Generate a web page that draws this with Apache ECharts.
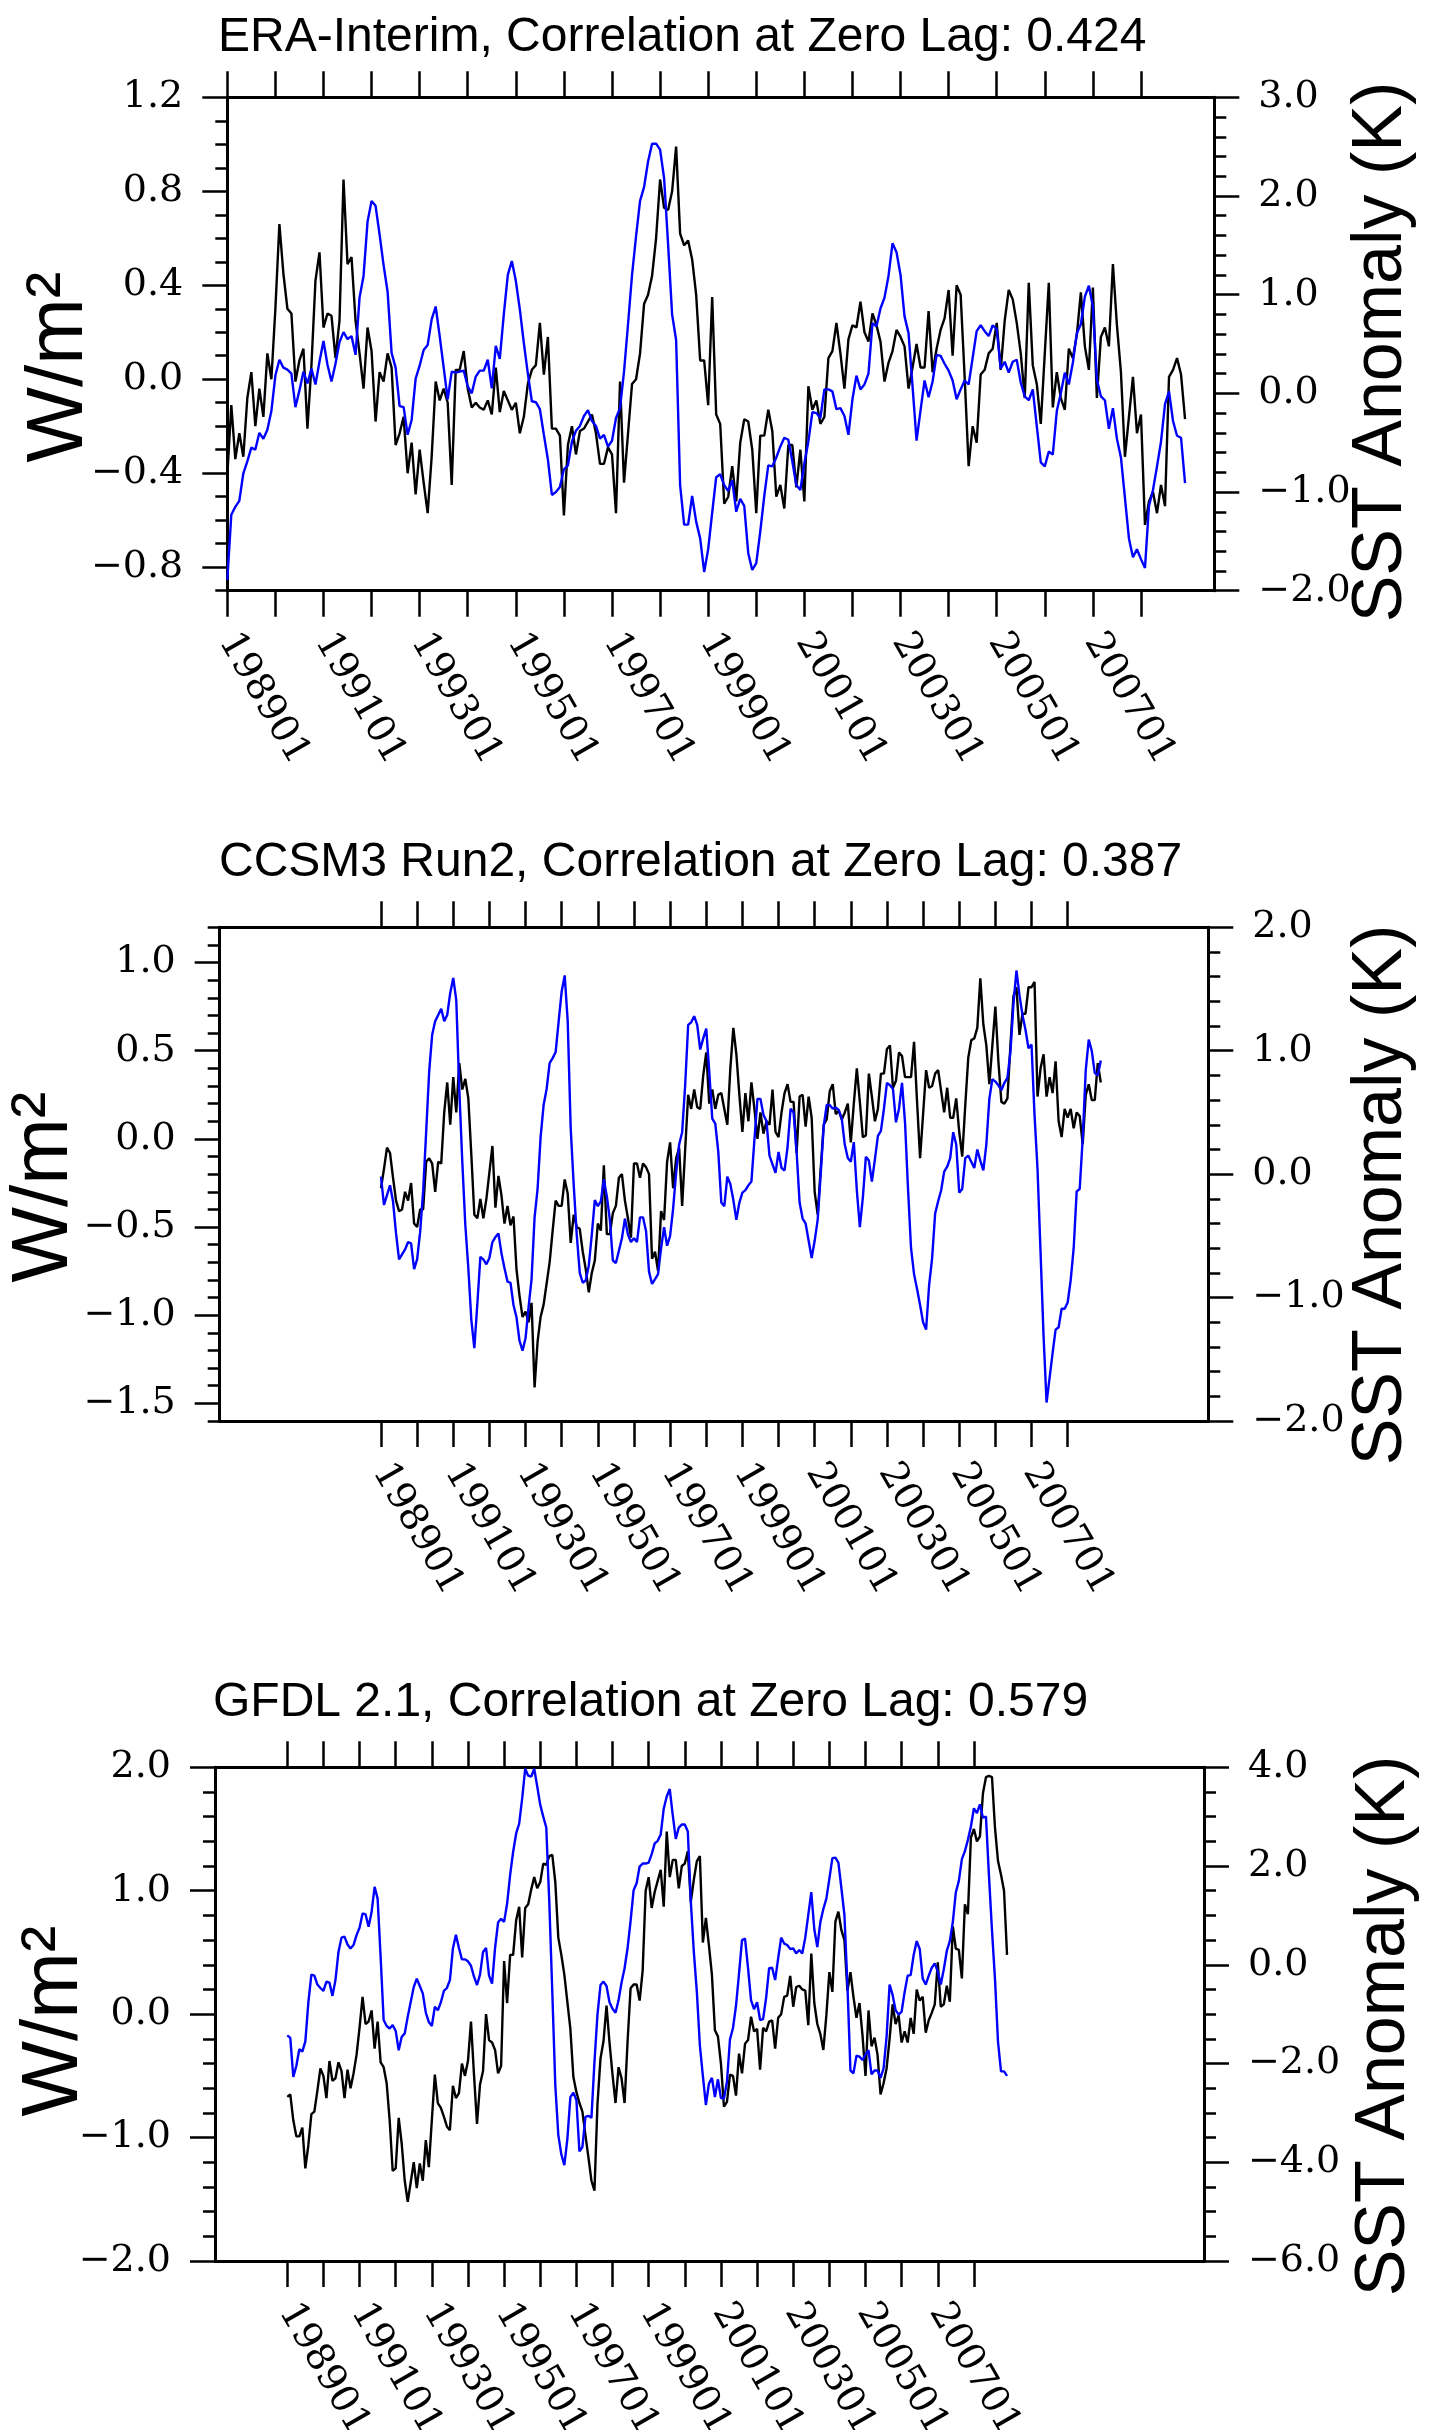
<!DOCTYPE html>
<html>
<head>
<meta charset="utf-8">
<title>Correlation at Zero Lag</title>
<script src="https://cdn.jsdelivr.net/npm/echarts@6.0.0/dist/echarts.min.js"></script>
<style>
  html, body { margin: 0; padding: 0; background: #fff; }
  #chart { width: 1441px; height: 2430px; }
</style>
</head>
<body>
<div id="chart"></div>
<script>
// months counted from 198901 (0) to 200812 (239)
var months = [];
for (var i = 0; i < 240; i++) months.push(i);

// yearly ticks, labels every second year
var yearTicks = [0, 12, 24, 36, 48, 60, 72, 84, 96, 108, 120, 132, 144, 156, 168, 180, 192, 204, 216, 228];
var yearLabels = [0, 24, 48, 72, 96, 120, 144, 168, 192, 216];

var titles = [
  'ERA-Interim, Correlation at Zero Lag: 0.424',
  'CCSM3 Run2, Correlation at Zero Lag: 0.387',
  'GFDL 2.1, Correlation at Zero Lag: 0.579'
];

// W/m2 (black, left axis)
var eraFlux = [
  -0.41,-0.11,-0.34,-0.23,-0.33,-0.08,0.03,-0.20,-0.04,-0.16,
  0.11,0.00,0.30,0.66,0.45,0.30,0.28,-0.01,0.08,0.13,
  -0.21,0.06,0.42,0.54,0.22,0.28,0.27,0.09,0.25,0.85,
  0.49,0.52,0.25,0.11,-0.04,0.22,0.12,-0.18,0.03,-0.01,
  0.11,0.05,-0.28,-0.23,-0.16,-0.40,-0.27,-0.49,-0.30,-0.44,
  -0.57,-0.33,-0.01,-0.09,-0.04,-0.10,-0.45,0.04,0.04,0.12,
  -0.04,-0.12,-0.10,-0.12,-0.13,-0.09,-0.15,0.05,-0.14,-0.05,
  -0.09,-0.13,-0.10,-0.23,-0.16,-0.02,0.04,0.06,0.24,0.02,
  0.18,-0.21,-0.21,-0.24,-0.58,-0.28,-0.20,-0.32,-0.22,-0.21,
  -0.18,-0.15,-0.23,-0.36,-0.36,-0.29,-0.32,-0.57,-0.01,-0.44,
  -0.23,-0.02,0.00,0.11,0.32,0.36,0.44,0.60,0.85,0.73,
  0.72,0.80,0.99,0.62,0.57,0.59,0.51,0.36,0.08,0.08,
  -0.11,0.35,-0.15,-0.19,-0.53,-0.50,-0.37,-0.52,-0.27,-0.17,
  -0.18,-0.30,-0.57,-0.24,-0.24,-0.13,-0.22,-0.50,-0.45,-0.55,
  -0.28,-0.28,-0.46,-0.30,-0.52,-0.03,-0.13,-0.09,-0.19,-0.16,
  0.09,0.12,0.24,0.11,-0.04,0.17,0.23,0.22,0.33,0.20,
  0.16,0.28,0.23,0.16,-0.01,0.07,0.12,0.21,0.18,0.14,
  -0.04,0.05,0.15,0.05,0.05,0.29,0.03,0.13,0.21,0.26,
  0.38,0.10,0.40,0.36,0.01,-0.37,-0.20,-0.27,0.02,0.04,
  0.11,0.13,0.24,0.04,0.25,0.38,0.34,0.24,0.11,-0.08,
  0.41,0.06,-0.02,-0.19,0.11,0.41,-0.12,0.03,-0.08,-0.13,
  0.13,0.09,0.19,0.37,0.14,0.04,0.39,-0.08,0.18,0.22,
  0.14,0.49,0.23,0.03,-0.33,-0.16,0.01,-0.23,-0.15,-0.62,
  -0.52,-0.48,-0.57,-0.45,-0.54,0.01,0.04,0.09,0.02,-0.17
];
// SST anomaly K (blue, right axis)
var eraSst = [
  -1.89,-1.23,-1.15,-1.09,-0.81,-0.69,-0.55,-0.57,-0.40,-0.46,
  -0.37,-0.18,0.18,0.34,0.26,0.24,0.20,-0.14,0.03,0.22,
  0.10,0.25,0.09,0.32,0.53,0.29,0.12,0.30,0.52,0.62,
  0.55,0.58,0.39,0.97,1.19,1.74,1.95,1.90,1.61,1.30,
  1.03,0.41,0.26,-0.13,-0.14,-0.42,-0.27,0.15,0.28,0.44,
  0.49,0.75,0.88,0.58,0.26,-0.06,0.22,0.21,0.22,0.23,
  0.07,0.00,0.17,0.23,0.23,0.34,0.05,0.48,0.35,0.80,
  1.20,1.34,1.14,0.85,0.51,0.20,-0.08,-0.09,-0.16,-0.42,
  -0.67,-1.03,-1.00,-0.95,-0.77,-0.73,-0.49,-0.38,-0.33,-0.23,
  -0.17,-0.28,-0.33,-0.46,-0.42,-0.54,-0.48,-0.25,-0.15,0.22,
  0.70,1.20,1.59,1.95,2.09,2.35,2.53,2.53,2.47,2.18,
  1.51,0.80,0.54,-0.93,-1.33,-1.33,-1.04,-1.30,-1.47,-1.81,
  -1.58,-1.21,-0.85,-0.82,-0.93,-0.99,-0.88,-1.20,-1.07,-1.14,
  -1.62,-1.79,-1.72,-1.40,-1.04,-0.73,-0.74,-0.65,-0.54,-0.45,
  -0.47,-0.69,-0.93,-0.98,-0.71,-0.49,-0.19,-0.20,-0.25,0.04,
  0.04,0.02,-0.16,-0.15,-0.23,-0.42,-0.06,0.18,0.04,0.09,
  0.20,0.71,0.68,0.86,0.97,1.19,1.52,1.43,1.20,0.78,
  0.61,0.07,-0.48,-0.17,0.13,-0.04,0.12,0.39,0.38,0.30,
  0.23,0.13,-0.06,0.04,0.13,0.09,0.36,0.63,0.69,0.63,
  0.58,0.69,0.65,0.25,0.32,0.21,0.32,0.34,0.11,-0.03,
  -0.07,0.04,-0.33,-0.70,-0.74,-0.59,-0.62,-0.18,0.00,0.21,
  0.09,0.31,0.61,0.70,0.98,1.09,0.88,0.14,-0.03,-0.07,
  -0.36,-0.15,-0.46,-0.65,-1.06,-1.47,-1.66,-1.58,-1.68,-1.77,
  -1.14,-0.98,-0.74,-0.49,-0.11,0.02,-0.28,-0.43,-0.45,-0.91
];

var ccsmFlux = [
  -0.28,-0.17,-0.05,-0.08,-0.22,-0.35,-0.41,-0.40,-0.30,-0.35,
  -0.25,-0.48,-0.50,-0.40,-0.40,-0.13,-0.11,-0.14,-0.30,-0.13,
  -0.14,0.15,0.32,0.08,0.35,0.15,0.43,0.28,0.34,0.23,
  -0.09,-0.43,-0.45,-0.34,-0.45,-0.34,-0.19,-0.04,-0.39,-0.21,
  -0.32,-0.48,-0.38,-0.49,-0.44,-0.74,-0.89,-1.01,-0.98,-1.04,
  -0.93,-1.41,-1.15,-1.01,-0.94,-0.82,-0.70,-0.52,-0.35,-0.38,
  -0.38,-0.23,-0.31,-0.59,-0.43,-0.50,-0.51,-0.64,-0.74,-0.87,
  -0.76,-0.69,-0.48,-0.52,-0.15,-0.54,-0.54,-0.42,-0.38,-0.22,
  -0.20,-0.35,-0.45,-0.56,-0.14,-0.14,-0.22,-0.14,-0.16,-0.20,
  -0.68,-0.64,-0.75,-0.41,-0.46,-0.13,-0.02,-0.28,-0.11,-0.05,
  -0.38,-0.06,0.25,0.17,0.28,0.18,0.17,0.36,0.49,0.20,
  0.28,0.17,0.25,0.26,0.17,0.08,0.40,0.63,0.48,0.25,
  0.04,0.26,0.10,0.32,0.17,0.00,0.15,0.03,0.10,0.08,
  0.28,0.04,0.01,0.15,0.26,0.31,0.21,0.21,-0.08,0.24,
  0.25,0.07,0.24,0.12,-0.30,-0.43,-0.17,0.08,0.11,0.27,
  0.31,0.14,0.16,0.11,0.15,0.20,-0.02,0.20,0.40,0.21,
  0.01,0.02,0.37,0.24,0.10,0.17,0.37,0.37,0.51,0.53,
  0.29,0.33,0.49,0.47,0.35,0.35,0.35,0.55,0.21,-0.11,
  0.14,0.39,0.29,0.30,0.37,0.39,0.27,0.15,0.29,0.12,
  0.12,0.23,0.04,-0.10,0.19,0.46,0.56,0.57,0.63,0.91,
  0.65,0.53,0.31,0.53,0.75,0.44,0.21,0.20,0.23,0.53,
  0.81,0.86,0.59,0.71,0.71,0.86,0.86,0.89,0.24,0.40,
  0.48,0.24,0.35,0.26,0.44,0.10,0.01,0.17,0.12,0.17,
  0.06,0.15,0.13,-0.03,0.25,0.31,0.22,0.22,0.43,0.32
];
var ccsmSst = [
  -0.02,-0.25,-0.17,-0.09,-0.22,-0.48,-0.69,-0.65,-0.61,-0.55,
  -0.56,-0.77,-0.69,-0.47,-0.14,0.34,0.83,1.13,1.24,1.29,
  1.34,1.24,1.29,1.47,1.59,1.41,0.69,0.10,-0.41,-0.76,
  -1.18,-1.41,-1.05,-0.67,-0.69,-0.73,-0.68,-0.55,-0.51,-0.48,
  -0.64,-0.76,-0.87,-0.88,-1.06,-1.16,-1.35,-1.43,-1.33,-1.08,
  -0.85,-0.35,-0.12,0.30,0.56,0.69,0.90,0.94,0.99,1.24,
  1.48,1.61,1.24,0.37,-0.09,-0.49,-0.80,-0.88,-0.86,-0.74,
  -0.49,-0.21,-0.26,-0.22,-0.04,-0.18,-0.37,-0.70,-0.72,-0.62,
  -0.52,-0.36,-0.49,-0.55,-0.52,-0.55,-0.35,-0.35,-0.46,-0.79,
  -0.89,-0.85,-0.81,-0.60,-0.43,-0.58,-0.50,-0.28,0.01,0.24,
  0.34,0.72,1.21,1.23,1.28,1.21,1.01,1.10,1.18,0.83,
  0.45,0.41,0.18,-0.23,-0.26,-0.02,-0.08,-0.21,-0.37,-0.23,
  -0.15,-0.13,-0.09,-0.06,0.28,0.61,0.61,0.48,0.43,0.15,
  0.08,0.01,0.18,0.05,0.03,0.22,0.53,0.50,0.18,-0.23,
  -0.36,-0.40,-0.54,-0.68,-0.54,-0.37,0.00,0.39,0.56,0.56,
  0.53,0.54,0.52,0.45,0.24,0.13,0.10,0.26,-0.13,-0.43,
  -0.19,0.14,0.11,-0.06,0.12,0.31,0.35,0.53,0.74,0.72,
  0.69,0.42,0.53,0.74,0.42,-0.12,-0.60,-0.81,-0.93,-1.06,
  -1.20,-1.26,-0.90,-0.68,-0.32,-0.22,-0.13,0.02,0.06,0.13,
  0.34,0.24,-0.15,-0.12,0.13,0.15,0.10,0.05,0.20,0.11,
  0.03,0.24,0.61,0.77,0.75,0.72,0.68,0.74,0.78,0.99,
  1.38,1.65,1.45,1.29,1.17,1.02,1.05,0.48,0.04,-0.63,
  -1.31,-1.85,-1.65,-1.45,-1.26,-1.24,-1.09,-1.09,-1.04,-0.86,
  -0.60,-0.14,-0.12,0.29,0.84,1.09,1.00,0.82,0.80,0.92
];

var gfdlFlux = [
  -0.67,-0.65,-0.86,-0.99,-0.99,-0.92,-1.25,-1.06,-0.81,-0.79,
  -0.62,-0.44,-0.50,-0.68,-0.38,-0.54,-0.52,-0.39,-0.46,-0.68,
  -0.45,-0.60,-0.48,-0.33,-0.11,0.14,-0.08,-0.06,0.03,-0.28,
  -0.06,-0.39,-0.43,-0.56,-0.86,-1.27,-1.25,-0.84,-1.05,-1.35,
  -1.52,-1.36,-1.20,-1.41,-1.21,-1.35,-1.02,-1.24,-0.86,-0.49,
  -0.72,-0.76,-0.83,-0.91,-0.94,-0.58,-0.68,-0.64,-0.40,-0.50,
  -0.38,-0.06,-0.49,-0.89,-0.57,-0.46,0.00,-0.21,-0.23,-0.29,
  -0.48,-0.42,0.43,0.09,0.48,0.48,0.76,0.87,0.46,0.86,
  0.89,1.01,1.11,1.02,1.07,1.22,1.21,1.28,1.29,1.07,
  0.62,0.48,0.32,0.10,-0.12,-0.51,-0.63,-0.72,-0.79,-0.98,
  -1.16,-1.35,-1.43,-0.73,-0.36,-0.22,0.07,-0.23,-0.49,-0.72,
  -0.43,-0.52,-0.72,-0.22,0.21,0.24,0.24,0.11,0.35,1.00,
  1.11,0.86,0.99,1.08,1.17,0.87,1.48,1.11,1.25,1.25,
  1.02,1.20,1.22,1.32,0.91,1.09,1.24,1.28,0.58,0.78,
  0.56,0.32,-0.13,-0.18,-0.40,-0.75,-0.71,-0.49,-0.50,-0.66,
  -0.32,-0.48,-0.24,-0.21,-0.02,-0.14,-0.12,-0.45,-0.11,-0.14,
  -0.06,-0.05,-0.28,-0.03,0.00,0.14,0.15,0.31,0.06,0.22,
  0.23,0.20,0.19,-0.09,0.49,0.09,-0.08,-0.16,-0.29,-0.01,
  0.34,0.18,0.75,0.83,0.68,0.60,0.19,0.34,0.14,-0.03,
  0.09,-0.17,-0.50,0.03,-0.26,-0.19,-0.33,-0.65,-0.56,-0.44,
  -0.20,0.08,-0.08,-0.01,-0.23,-0.14,-0.23,-0.03,-0.16,0.20,
  0.11,0.14,-0.15,-0.05,0.01,0.08,0.42,0.06,0.08,0.23,
  0.10,0.71,0.53,0.52,0.29,0.89,0.81,1.43,1.50,1.40,
  1.44,1.79,1.92,1.93,1.92,1.51,1.24,1.13,1.00,0.48
];
var gfdlSst = [
  -1.43,-1.48,-2.27,-2.05,-1.71,-1.76,-1.55,-0.76,-0.20,-0.22,
  -0.40,-0.47,-0.53,-0.34,-0.36,-0.63,-0.31,0.26,0.55,0.57,
  0.41,0.33,0.40,0.60,0.75,1.04,1.02,0.77,1.07,1.58,
  1.34,0.16,-1.12,-1.24,-1.29,-1.22,-1.34,-1.73,-1.46,-1.39,
  -1.05,-0.75,-0.45,-0.28,-0.43,-0.58,-0.97,-1.16,-1.24,-0.85,
  -0.92,-0.76,-0.53,-0.47,-0.31,0.33,0.61,0.34,0.11,0.11,
  0.07,-0.02,-0.24,-0.41,-0.20,0.26,0.34,-0.22,-0.38,0.34,
  0.86,0.93,0.87,1.24,1.82,2.29,2.66,2.86,3.37,3.97,
  3.83,3.81,3.97,3.61,3.24,3.00,2.78,1.28,-0.55,-2.44,
  -3.45,-3.84,-4.06,-3.53,-2.68,-2.59,-2.74,-3.78,-3.69,-3.08,
  -3.06,-3.10,-1.97,-1.01,-0.41,-0.34,-0.43,-0.76,-0.89,-0.97,
  -0.72,-0.36,-0.07,0.34,0.89,1.51,1.65,1.99,2.05,2.05,
  2.07,2.24,2.46,2.51,2.64,3.16,3.41,3.56,3.03,2.55,
  2.78,2.84,2.84,2.70,1.28,0.26,-0.55,-1.63,-2.25,-2.84,
  -2.41,-2.29,-2.68,-2.32,-2.70,-2.71,-2.37,-1.51,-1.28,-0.83,
  -0.18,0.50,0.53,-0.07,-0.72,-0.90,-0.76,-1.12,-1.10,-0.67,
  -0.07,-0.06,-0.31,0.13,0.55,0.43,0.40,0.32,0.33,0.23,
  0.30,0.23,0.55,1.01,1.47,0.72,0.36,0.86,1.13,1.34,
  1.74,2.16,2.17,2.07,1.55,1.01,-0.41,-2.14,-2.20,-1.84,
  -1.86,-1.93,-1.82,-1.73,-2.22,-2.14,-2.14,-2.29,-2.10,-1.46,
  -0.40,-0.61,-0.92,-1.01,-0.95,-0.55,-0.22,-0.21,0.20,0.48,
  0.32,-0.28,-0.40,-0.22,-0.06,0.03,-0.14,-0.40,-0.09,0.28,
  0.48,0.87,1.47,1.70,2.14,2.30,2.53,2.80,3.17,3.07,
  3.25,2.98,3.00,1.80,0.70,-0.29,-1.56,-2.16,-2.16,-2.25
];

// axis tick values
var eraFluxTicks = [-0.8, -0.4, 0.0, 0.4, 0.8, 1.2];
var eraSstTicks = [-2, -1, 0, 1, 2, 3];
var ccsmFluxTicks = [-1.5, -1.0, -0.5, 0.0, 0.5, 1.0];
var ccsmSstTicks = [-2, -1, 0, 1, 2];
var gfdlFluxTicks = [-2, -1, 0, 1, 2];
var gfdlSstTicks = [-6, -4, -2, 0, 2, 4];

// layout of the three panels
var panels = [
  { title: titles[0], flux: eraFlux, sst: eraSst,
    left: 227.3, top: 97.3, width: 987, height: 493.4, xMin: 0, xMax: 246.3,
    fl: { min: -0.9, max: 1.2, minor: 0.1, ticks: eraFluxTicks },
    ss: { min: -2, max: 3, minor: 0.2, ticks: eraSstTicks },
    tLeft: 213, tTop: 9, nameL: [60, 367], nameR: [1382, 352] },
  { title: titles[1], flux: ccsmFlux, sst: ccsmSst,
    left: 219.7, top: 927.3, width: 988.6, height: 493.7, xMin: -53.55, xMax: 274.7,
    fl: { min: -1.6, max: 1.2, minor: 0.1, ticks: ccsmFluxTicks },
    ss: { min: -2, max: 2, minor: 0.2, ticks: ccsmSstTicks },
    tLeft: 214, tTop: 834, nameL: [45, 1187], nameR: [1382, 1195] },
  { title: titles[2], flux: gfdlFlux, sst: gfdlSst,
    left: 215, top: 1767.3, width: 989, height: 493.7, xMin: -24, xMax: 304.4,
    fl: { min: -2, max: 2, minor: 0.2, ticks: gfdlFluxTicks },
    ss: { min: -6, max: 4, minor: 0.5, ticks: gfdlSstTicks },
    tLeft: 208, tTop: 1674, nameL: [55, 2021], nameR: [1385, 2026] }
];

function steps(min, max, step) {
  var out = [];
  var n = Math.round((max - min) / step);
  for (var k = 0; k <= n; k++) out.push(Math.round((min + k * step) * 1000) / 1000);
  return out;
}
function numLabel(v) {
  var s = Math.abs(v).toFixed(1);
  return (v < -1e-9 ? '\u2212' : '') + s;
}
function monthLabel(v) {
  return (1989 + Math.round(v / 12)) + '01';
}
function pairs(vals) {
  return months.map(function (m, i) { return [m, vals[i]]; });
}

var serif = 'DejaVu Serif';
var sans = 'Liberation Sans';
var frame = { color: '#000', width: 3 };
var tickStyle = { color: '#000', width: 2.5 };

var option = {
  animation: false,
  backgroundColor: '#fff',
  title: [], grid: [], xAxis: [], yAxis: [], series: [], graphic: []
};

panels.forEach(function (p, k) {
  option.title.push({
    text: p.title, left: p.tLeft, top: p.tTop,
    textStyle: { fontFamily: sans, fontSize: 48, fontWeight: 'normal', color: '#000' }
  });
  option.grid.push({
    left: p.left, top: p.top, width: p.width, height: p.height,
    containLabel: false, outerBoundsMode: 'none'
  });

  ['bottom', 'top'].forEach(function (pos) {
    option.xAxis.push({
      type: 'value', gridIndex: k, position: pos, min: p.xMin, max: p.xMax,
      splitLine: { show: false },
      axisLine: { show: true, onZero: false, lineStyle: frame },
      axisTick: { show: true, inside: false, length: 26, customValues: yearTicks, lineStyle: tickStyle },
      axisLabel: pos === 'bottom' ? {
        show: true, customValues: yearLabels, rotate: -60, margin: 45,
        formatter: monthLabel, fontFamily: serif, fontSize: 38, color: '#000'
      } : { show: false }
    });
  });

  [['left', p.fl], ['right', p.ss]].forEach(function (a) {
    var pos = a[0], ax = a[1];
    option.yAxis.push({
      type: 'value', gridIndex: k, position: pos, min: ax.min, max: ax.max,
      splitLine: { show: false },
      axisLine: { show: true, onZero: false, lineStyle: frame },
      axisTick: { show: true, inside: false, length: 12, customValues: steps(ax.min, ax.max, ax.minor), lineStyle: tickStyle },
      axisLabel: {
        show: true, customValues: ax.ticks, margin: 44, formatter: numLabel,
        fontFamily: serif, fontSize: 38, color: '#000'
      }
    });
    // longer ticks at the labelled values
    option.yAxis.push({
      type: 'value', gridIndex: k, position: pos, min: ax.min, max: ax.max,
      splitLine: { show: false },
      axisLine: { show: false, onZero: false },
      axisTick: { show: true, inside: false, length: 25, customValues: ax.ticks, lineStyle: tickStyle },
      axisLabel: { show: false }
    });
  });

  // axis titles, rotated to read upwards
  option.graphic.push({
    type: 'text', x: p.nameL[0], y: p.nameL[1], rotation: Math.PI / 2,
    style: { text: 'W/m\u00b2', font: '80px "Liberation Sans"', fill: '#000', align: 'center', verticalAlign: 'middle' }
  });
  option.graphic.push({
    type: 'text', x: p.nameR[0], y: p.nameR[1], rotation: Math.PI / 2,
    style: { text: 'SST Anomaly (K)', font: '70px "Liberation Sans"', fill: '#000', align: 'center', verticalAlign: 'middle' }
  });

  option.series.push({
    type: 'line', xAxisIndex: 2 * k, yAxisIndex: 4 * k, data: pairs(p.flux),
    showSymbol: false, lineStyle: { color: '#000', width: 2.4 }, itemStyle: { color: '#000' }
  });
  option.series.push({
    type: 'line', xAxisIndex: 2 * k, yAxisIndex: 4 * k + 2, data: pairs(p.sst),
    showSymbol: false, lineStyle: { color: '#0000ff', width: 2.4 }, itemStyle: { color: '#0000ff' }
  });
});

var chart = echarts.init(document.getElementById('chart'), null, { renderer: 'canvas' });
chart.setOption(option);
</script>
</body>
</html>
